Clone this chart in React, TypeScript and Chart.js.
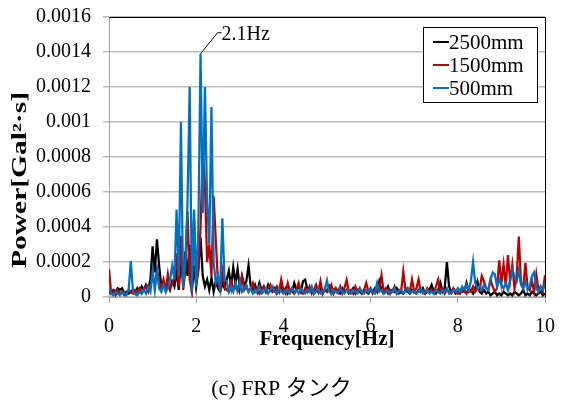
import React, { useEffect, useRef } from "react";
import { Chart, registerables } from "chart.js";

Chart.register(...registerables);

// Frequency grid step (Hz) and unit of the power arrays below
const FREQ_STEP = 0.05;
const POWER_UNIT = 1e-4; // values below are in units of 1e-4 Gal²·s

const SERIES_LABELS = ["2500mm", "1500mm", "500mm"];
const SERIES_COLORS = ["#000000", "#C00000", "#0070C0"];

const X_TICKS = [0, 2, 4, 6, 8, 10];
const Y_TICKS = [0, 0.0002, 0.0004, 0.0006, 0.0008, 0.001, 0.0012, 0.0014, 0.0016];

const X_TITLE = "Frequency[Hz]";
const Y_TITLE = "Power[Gal²·s]";
const CAPTION = "(c) FRP タンク";
const PEAK_LABEL = "2.1Hz";
const PEAK_FREQ = 2.1;

// 2500mm (black), 0 .. 10 Hz every 0.05 Hz
const P2500 = [
  0.3, 0.2, 0.4, 0.3, 0.5, 0.4, 0.5, 0.2, 0.3, 0.2,
  0.3, 0.4, 0.2, 0.5, 0.3, 0.6, 0.4, 0.7, 0.5, 1.0,
  2.9, 1.4, 3.3, 1.8, 0.6, 0.8, 0.5, 0.7, 0.4, 0.9,
  0.6, 1.5, 0.4, 2.2, 0.8, 2.6, 1.2, 3.0, 0.3, 1.8,
  0.6, 1.7, 3.4, 1.2, 0.6, 1.0, 0.4, 1.1, 0.3, 0.9,
  0.5, 0.3, 0.8, 0.5, 1.0, 1.5, 0.6, 1.7, 0.8, 1.6,
  0.5, 1.2, 0.7, 0.9, 1.8, 0.6, 0.4, 0.7, 0.3, 0.8,
  0.4, 0.6, 0.3, 0.7, 0.4, 0.3, 0.5, 0.2, 0.4, 0.6,
  0.3, 0.5, 0.2, 0.4, 0.3, 0.8, 0.4, 0.6, 0.3, 0.9,
  1.0, 0.4, 0.3, 0.5, 0.2, 0.4, 0.3, 0.5, 0.2, 0.4,
  0.3, 0.6, 0.2, 0.4, 0.5, 0.3, 0.2, 0.5, 0.3, 0.4,
  0.2, 0.3, 0.5, 0.2, 0.4, 0.3, 0.2, 0.4, 0.3, 0.2,
  0.4, 0.3, 0.5, 0.3, 0.9, 0.4, 0.2, 0.3, 0.6, 0.2,
  0.4, 0.3, 0.5, 0.2, 0.3, 0.2, 0.4, 0.3, 0.2, 0.4,
  0.3, 0.2, 0.4, 0.3, 0.5, 0.2, 0.3, 0.4, 0.7, 0.3,
  0.2, 0.4, 0.8, 0.3, 0.5, 2.0, 0.6, 0.3, 0.4, 0.2,
  0.3, 0.2, 0.4, 0.3, 0.8, 0.3, 0.4, 0.2, 0.5, 0.9,
  0.3, 0.2, 0.4, 0.2, 0.3, 0.1, 0.2, 0.3, 0.1, 0.2,
  0.1, 0.3, 0.2, 0.1, 0.2, 0.1, 0.3, 0.2, 0.1, 0.2,
  0.4, 0.1, 0.2, 0.1, 0.3, 0.2, 0.1, 0.2, 0.3, 0.1,
  0.2,
];

// 1500mm (red)
const P1500 = [
  1.6, 0.2, 0.3, 0.1, 0.4, 0.2, 0.3, 0.1, 0.2, 0.4,
  0.3, 0.2, 0.4, 0.3, 0.5, 0.2, 0.4, 0.6, 0.3, 0.7,
  1.2, 0.6, 1.6, 0.9, 0.5, 1.0, 0.4, 1.3, 0.5, 0.8,
  1.0, 2.5, 0.6, 3.5, 0.4, 1.5, 4.9, 1.0, 0.3, 4.5,
  0.8, 1.5, 4.0, 8.3, 6.5, 2.0, 3.0, 1.2, 5.75, 3.2,
  0.8, 0.4, 1.5, 0.6, 0.4, 0.3, 0.9, 0.5, 0.7, 0.3,
  0.5, 1.16, 0.4, 0.6, 0.3, 0.5, 0.8, 0.3, 0.5, 0.2,
  0.4, 0.6, 0.3, 0.5, 0.7, 0.3, 0.4, 0.6, 0.3, 1.0,
  0.4, 0.2, 0.8, 0.3, 0.5, 0.2, 0.4, 0.8, 0.3, 0.2,
  0.5, 0.3, 0.6, 0.2, 0.4, 0.7, 0.3, 0.9, 0.2, 0.5,
  0.3, 0.4, 0.7, 0.2, 0.5, 0.3, 0.6, 0.2, 0.5, 0.98,
  0.3, 0.4, 0.2, 0.6, 0.3, 0.5, 0.2, 0.4, 0.8, 0.3,
  0.5, 0.2, 0.4, 0.3, 0.5, 1.25, 0.3, 0.5, 0.2, 0.4,
  0.3, 0.6, 0.2, 0.4, 0.3, 1.45, 0.4, 0.5, 0.3, 1.0,
  0.3, 0.5, 1.0, 0.3, 0.4, 0.2, 0.5, 0.3, 0.4, 0.2,
  0.6, 1.0, 0.3, 0.5, 0.2, 0.4, 0.3, 0.2, 0.5, 0.3,
  0.2, 0.4, 0.3, 0.5, 0.2, 0.4, 0.3, 0.6, 0.3, 0.5,
  0.4, 1.2, 0.9, 0.5, 0.4, 1.0, 0.6, 0.3, 0.5, 2.1,
  0.8, 1.85, 0.6, 2.4, 0.9, 1.85, 0.5, 1.2, 3.45, 0.8,
  0.5, 1.95, 0.6, 0.4, 0.9, 0.3, 1.3, 0.4, 0.6, 0.3,
  1.25,
];

// 500mm (blue)
const P500 = [
  0.5, 0.2, 0.1, 0.3, 0.2, 0.1, 0.3, 0.2, 0.1, 0.4,
  2.05, 0.3, 0.2, 0.1, 0.3, 0.2, 0.4, 0.2, 0.6, 0.3,
  1.5, 0.4, 1.5, 0.5, 0.3, 0.7, 0.3, 0.5, 1.0, 1.8,
  1.0, 5.0, 1.2, 10.0, 0.5, 2.0, 5.3, 12.0, 0.3, 5.0,
  0.6, 3.9, 13.9, 4.8, 12.0, 5.5, 3.0, 10.85, 2.0, 0.8,
  1.2, 0.5, 4.5, 1.0, 0.9, 0.3, 0.6, 0.3, 0.8, 0.4,
  0.9, 0.3, 0.5, 0.7, 0.3, 0.5, 0.2, 0.4, 0.3, 0.6,
  0.2, 0.3, 0.5, 0.2, 0.4, 0.6, 0.3, 0.2, 0.5, 0.3,
  0.2, 0.4, 0.3, 0.2, 0.5, 0.3, 0.4, 0.2, 0.5, 0.3,
  0.2, 0.4, 0.3, 0.6, 0.2, 0.3, 0.5, 0.2, 0.3, 0.4,
  0.95, 0.3, 0.2, 0.4, 0.3, 0.2, 0.5, 0.3, 0.2, 0.4,
  0.3, 0.2, 0.4, 0.3, 0.2, 0.5, 0.3, 0.2, 0.4, 0.3,
  0.5, 0.3, 0.2, 0.8, 0.3, 0.4, 0.2, 0.3, 0.4, 0.2,
  0.3, 0.5, 0.2, 0.3, 0.4, 0.2, 0.3, 0.5, 0.2, 0.3,
  0.4, 0.2, 0.3, 0.5, 0.2, 0.3, 0.4, 0.2, 0.3, 0.2,
  0.4, 0.3, 0.2, 0.4, 0.3, 0.5, 0.2, 0.3, 0.4, 0.3,
  0.5, 0.3, 0.6, 0.4, 0.7, 0.4, 0.9, 2.0, 0.8, 0.5,
  0.6, 0.4, 0.7, 0.5, 0.4, 1.0, 1.4, 1.3, 0.6, 1.0,
  0.7, 0.5, 0.8, 0.4, 1.0, 1.55, 1.2, 0.9, 1.55, 0.7,
  0.5, 0.9, 0.4, 0.6, 1.2, 1.4, 0.5, 0.3, 0.6, 0.4,
  0.8,
];

const SERIES = [P2500, P1500, P500];
const FREQS = P2500.map((_, i) => Math.round(i * FREQ_STEP * 100) / 100);

const SERIF = "'Liberation Serif', 'Times New Roman', 'Noto Sans CJK JP', serif";
const GRID_GRAY = "#bdbdbd";
const AXIS_GRAY = "#a6a6a6";

const decorPlugin = {
  id: "decor",
  afterDraw(chart: any) {
    const ctx = chart.ctx;
    const { left, right, top, bottom } = chart.chartArea;
    ctx.save();
    // plot frame top/right
    ctx.strokeStyle = "#000";
    ctx.lineWidth = 1;
    ctx.beginPath();
    ctx.moveTo(left, Math.round(top) + 0.5);
    ctx.lineTo(Math.round(right) + 0.5, Math.round(top) + 0.5);
    ctx.lineTo(Math.round(right) + 0.5, bottom);
    ctx.stroke();

    // peak annotation
    const xs = chart.scales.x;
    const ys = chart.scales.y;
    const pi = FREQS.indexOf(PEAK_FREQ);
    const px = xs.getPixelForValue(PEAK_FREQ);
    const py = ys.getPixelForValue(P500[pi] * POWER_UNIT);
    ctx.strokeStyle = "#000";
    ctx.lineWidth = 1;
    ctx.beginPath();
    ctx.moveTo(px, py);
    ctx.lineTo(px + 17, py - 21);
    ctx.lineTo(px + 21, py - 21);
    ctx.stroke();
    ctx.fillStyle = "#000";
    ctx.font = `20px ${SERIF}`;
    ctx.textAlign = "left";
    ctx.textBaseline = "middle";
    ctx.fillText(PEAK_LABEL, px + 21, py - 19);

    // legend
    const lx = 423, ly = 27, lw = 114, lh = 75;
    ctx.fillStyle = "#fff";
    ctx.fillRect(lx, ly, lw, lh);
    ctx.strokeStyle = "#000";
    ctx.lineWidth = 1;
    ctx.strokeRect(lx + 0.5, ly + 0.5, lw, lh);
    chart.data.datasets.forEach((ds: any, i: number) => {
      const ry = ly + 15 + i * 23;
      ctx.strokeStyle = ds.borderColor;
      ctx.lineWidth = 2;
      ctx.beginPath();
      ctx.moveTo(lx + 10, ry);
      ctx.lineTo(lx + 26, ry);
      ctx.stroke();
      ctx.fillStyle = "#000";
      ctx.font = `21px ${SERIF}`;
      ctx.textAlign = "left";
      ctx.textBaseline = "middle";
      ctx.fillText(ds.label, lx + 26, ry + 1);
    });

    // axis titles
    ctx.fillStyle = "#000";
    ctx.font = `bold 21px ${SERIF}`;
    ctx.textAlign = "center";
    ctx.textBaseline = "middle";
    ctx.fillText(X_TITLE, (left + right) / 2, 340);
    ctx.save();
    ctx.font = `bold 20px ${SERIF}`;
    const yw = ctx.measureText(Y_TITLE).width;
    ctx.translate(21, 180);
    ctx.rotate(-Math.PI / 2);
    ctx.scale(176 / yw, 1);
    ctx.fillText(Y_TITLE, 0, 0);
    ctx.restore();

    // caption
    ctx.font = `22px ${SERIF}`;
    ctx.fillText(CAPTION, chart.width / 2, 389);
    ctx.restore();
  },
};

export default function App() {
  const ref = useRef<HTMLCanvasElement | null>(null);
  useEffect(() => {
    if (!ref.current) return;
    const chart = new Chart(ref.current, {
      type: "line",
      data: {
        datasets: SERIES.map((arr, s) => ({
          label: SERIES_LABELS[s],
          data: arr.map((v, i) => ({ x: FREQS[i], y: v * POWER_UNIT })),
          borderColor: SERIES_COLORS[s],
          backgroundColor: SERIES_COLORS[s],
          borderWidth: 2.25,
          pointRadius: 0,
          tension: 0,
          order: 3 - s,
        })),
      },
      options: {
        responsive: false,
        animation: false,
        devicePixelRatio: 1,
        layout: { padding: { top: 17, right: 18, left: 0, bottom: 0 } },
        plugins: {
          legend: { display: false },
          tooltip: { enabled: false },
          title: { display: false },
        },
        scales: {
          x: {
            type: "linear",
            min: 0,
            max: 10,
            afterBuildTicks: (s: any) => {
              s.ticks = X_TICKS.map((v) => ({ value: v }));
            },
            afterFit: (s: any) => {
              s.height = 108;
              s.paddingLeft = 0;
              s.paddingRight = 0;
            },
            ticks: {
              color: "#000",
              font: { family: SERIF, size: 20 },
              padding: 12,
              maxRotation: 0,
              callback: (v: any) => String(v),
            },
            grid: {
              drawOnChartArea: false,
              drawTicks: true,
              tickLength: 6,
              color: AXIS_GRAY,
            },
            border: { color: AXIS_GRAY, width: 1 },
          },
          y: {
            type: "linear",
            min: 0,
            max: 0.0016,
            afterBuildTicks: (s: any) => {
              s.ticks = Y_TICKS.map((v) => ({ value: v }));
            },
            afterFit: (s: any) => {
              s.width = 109;
              s.paddingTop = 0;
              s.paddingBottom = 0;
            },
            ticks: {
              color: "#000",
              font: { family: SERIF, size: 20 },
              padding: 12,
              callback: (v: any) => String(Number(Number(v).toFixed(4))),
            },
            grid: {
              drawTicks: true,
              tickLength: 6,
              color: GRID_GRAY,
              lineWidth: 1.5,
            },
            border: { color: AXIS_GRAY, width: 1 },
          },
        },
      },
      plugins: [decorPlugin],
    });
    return () => chart.destroy();
  }, []);
  return (
    <div style={{ position: "absolute", left: 0, top: 0, width: 563, height: 405, background: "#fff" }}>
      <canvas ref={ref} width={563} height={405} style={{ display: "block" }} />
    </div>
  );
}
